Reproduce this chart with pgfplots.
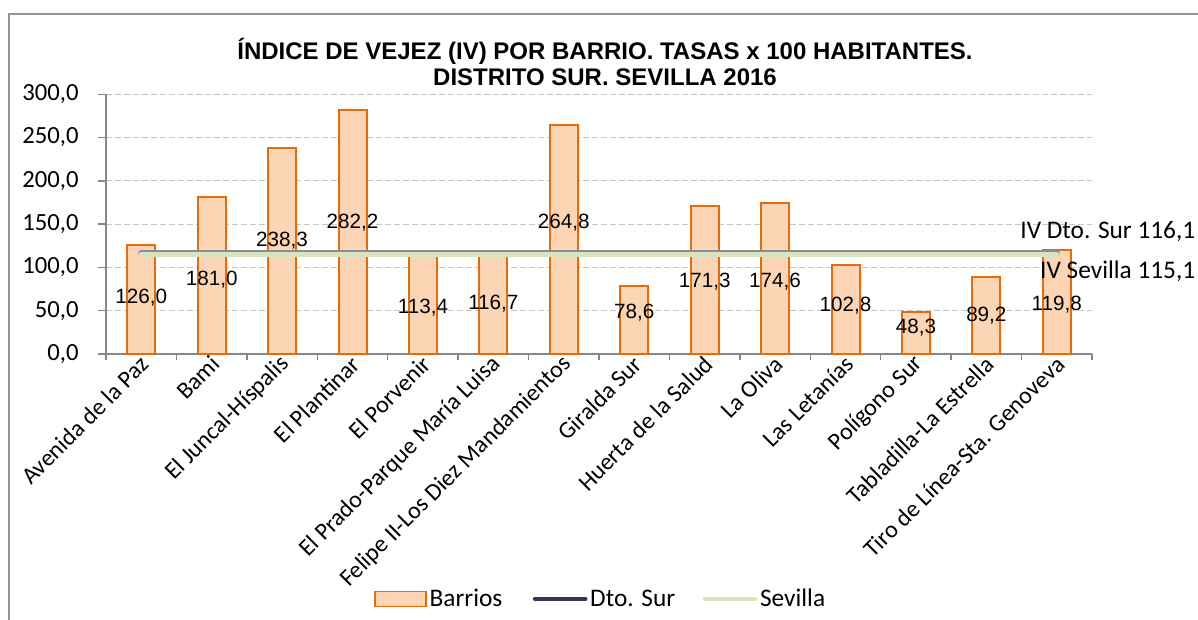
\documentclass[border=0pt]{standalone}
\usepackage{pgfplots}
\pgfplotsset{compat=1.18}
\usepackage{pgfplotstable}
\usepackage{fontspec}
\setmainfont{Carlito}
\newfontfamily\arial{Liberation Sans}
\definecolor{barfill}{HTML}{FCD5B5}
\definecolor{bardraw}{HTML}{E46C0A}
\definecolor{sevilla}{HTML}{D7E4BD}
\definecolor{dtosur}{HTML}{403152}
\definecolor{dtosurplot}{HTML}{8E8A92}
\definecolor{axisgray}{HTML}{878787}

\pgfplotstableread{
x val laby
0  126.0 64.9
1  181.0 85.7
2  238.3 130.9
3  282.2 151.7
4  113.4 53.3
5  116.7 57.9
6  264.8 151.7
7  78.6  47.5
8  171.3 83.4
9  174.6 83.4
10 102.8 55.6
11 48.3  30.1
12 89.2  44.0
13 119.8 56.8
}\barrios

\begin{document}
\begin{tikzpicture}
\useasboundingbox (0pt,0pt) rectangle (898.5pt,464.25pt);
\draw[gray!85, line width=1.5pt] (6.5pt,453.75pt) rectangle (911pt,-15pt);
\node[font=\arial\bfseries\fontsize{18}{19.5}\selectfont, align=center] at (453.75pt,418.1pt)
  {ÍNDICE DE VEJEZ (IV) POR BARRIO. TASAS x 100 HABITANTES.\\DISTRITO SUR. SEVILLA 2016};
\begin{axis}[
  at={(79.5pt,198.75pt)}, anchor=south west,
  scale only axis, width=739.5pt, height=194.8pt,
  xmin=-0.5, xmax=13.5, ymin=0, ymax=300,
  axis lines=left, axis line style={axisgray, line width=1pt, -},
  clip=false,
  ytick={0,50,...,300},
  yticklabel style={font=\fontsize{18.5}{20}\selectfont, xshift=-11pt},
  /pgf/number format/.cd, fixed, fixed zerofill, precision=1, use comma, assume math mode=true,
  /pgfplots/.cd,
  ymajorgrids, grid style={dashed, dash pattern=on 4.5pt off 2.25pt, gray!45, line width=0.8pt},
  tick align=outside, major tick length=6pt, minor tick length=4.5pt,
  major y tick style={axisgray, line width=1pt},
  xtick={0,...,13},
  major x tick style={draw=none},
  minor xtick={-0.5,0.5,...,13.5},
  minor x tick style={axisgray, line width=1pt},
  xticklabels={Avenida de la Paz,Bami,El Juncal-Híspalis,El Plantinar,El Porvenir,El Prado-Parque María Luisa,Felipe II-Los Diez Mandamientos,Giralda Sur,Huerta de la Salud,La Oliva,Las Letanías,Polígono Sur,Tabladilla-La Estrella,Tiro de Línea-Sta. Genoveva},
  xticklabel style={font=\fontsize{18}{20}\selectfont, rotate=45, anchor=east, inner sep=1pt, yshift=-1pt, xshift=4pt},
  legend columns=3,
  legend style={at={(rel axis cs:0.502,-0.943)}, anchor=center, draw=none, fill=none,
    font=\fontsize{19}{21}\selectfont, column sep=0pt,
    /tikz/column 2/.style={column sep=20.8pt},
    /tikz/column 4/.style={column sep=18.5pt}},
  legend cell align=left,
]
\addplot[ybar, bar width=21pt, fill=barfill, draw=bardraw, line width=1.5pt, bar shift=0pt,
  legend image code/.code={\draw[fill=barfill, draw=bardraw, line width=1.2pt] (0pt,-5.6pt) rectangle (38.5pt,5.6pt);}]
  table[x=x, y=val] {\barrios};
\addlegendentry{Barrios}
\addplot[dtosurplot, line width=4.5pt, line cap=round,
  legend image code/.code={\draw[dtosur, line width=3.6pt, line cap=round] (1.8pt,0pt) -- (39.3pt,0pt);}]
  coordinates {(0,116.1) (13,116.1)};
\addlegendentry{Dto. Sur}
\addplot[sevilla, line width=3.5pt, line cap=round,
  legend image code/.code={\draw[sevilla, line width=3.6pt, line cap=round] (1.8pt,0pt) -- (39.3pt,0pt);}]
  coordinates {(0,115.1) (13,115.1)};
\addlegendentry{Sevilla}
\addplot[draw=none, mark=none, nodes near coords, point meta=explicit,
  nodes near coords style={font=\arial\fontsize{15.5}{17}\selectfont, anchor=center, text=black,
    /pgf/number format/.cd, fixed, fixed zerofill, precision=1, use comma, assume math mode=true},
  forget plot]
  table[x=x, y=laby, meta=val] {\barrios};
\node[anchor=east, font=\fontsize{19}{21}\selectfont, inner sep=0pt] at (axis cs:14.97,141) {IV Dto. Sur 116,1};
\node[anchor=east, font=\fontsize{19}{21}\selectfont, inner sep=0pt] at (axis cs:14.97,95.9) {IV Sevilla 115,1};
\end{axis}
\end{tikzpicture}
\end{document}
